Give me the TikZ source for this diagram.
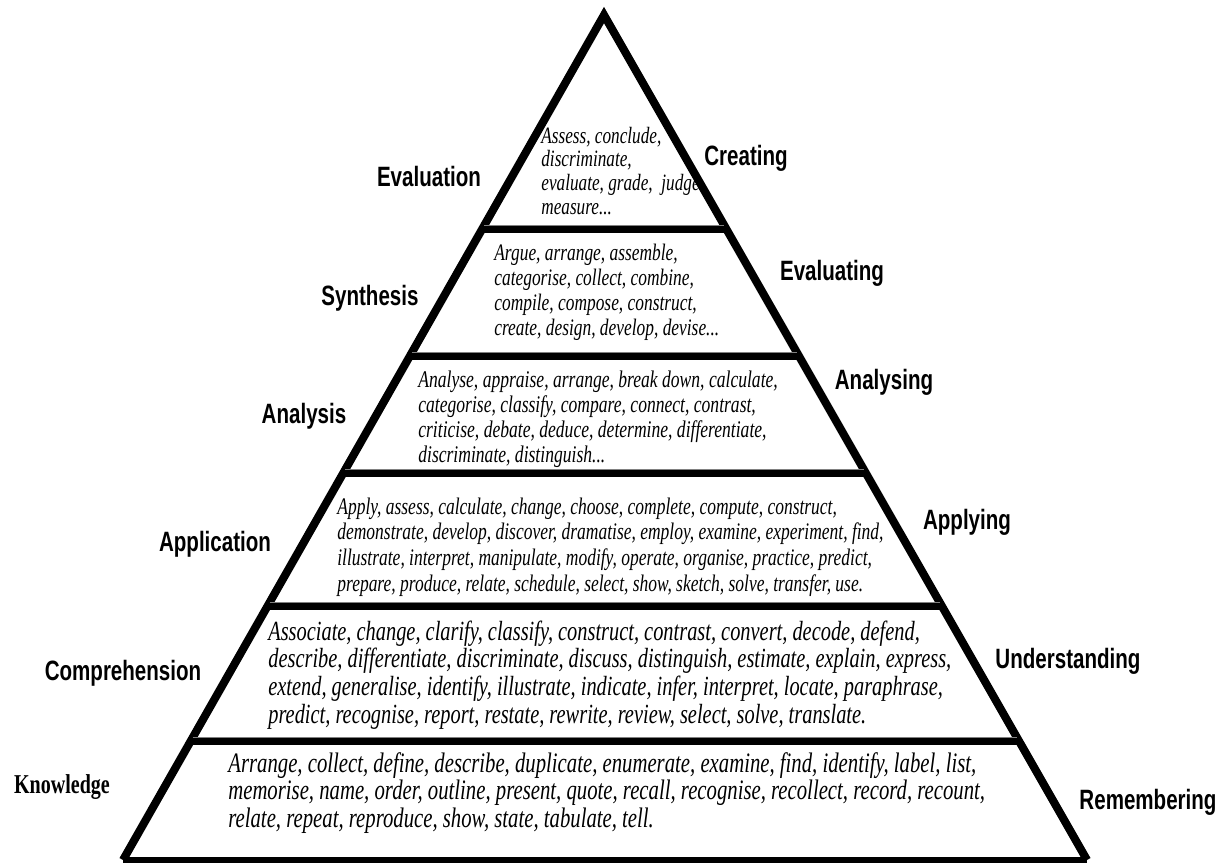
\documentclass[tikz,border=0pt]{standalone}
\usepackage{fontspec}
\usepackage{graphicx}
\setmainfont{Liberation Serif}
\newfontfamily\arialfont{Liberation Sans}
\usetikzlibrary{calc}

% the reference is stretched vertically
\newcommand{\vstr}[1]{\scalebox{1}[1.36]{#1}}
\newcommand{\verbs}[3]{\vstr{\fontsize{#1}{#2}\selectfont\itshape\begin{tabular}[t]{@{}l@{}}#3\end{tabular}}}

\tikzset{
  side/.style={line width=4.6pt, line join=miter},
  band/.style={line width=4pt},
  hair/.style={gray, line width=0.5pt},
  oldname/.style={inner sep=0pt, font=\arialfont\bfseries\fontsize{11.7}{13}\selectfont},
  newname/.style={inner sep=0pt, font=\arialfont\bfseries\fontsize{11.7}{13}\selectfont},
  verblist/.style={inner sep=0pt, anchor=base west}
}

\begin{document}
\begin{tikzpicture}[x=0.02cm, y=-0.02cm]
\useasboundingbox (0,0) rectangle (1229,863);

\coordinate (apex) at (604,15);
\coordinate (bl) at (123,860);
\coordinate (br) at (1087,860);

% pyramid
\draw[side] (bl) -- (apex) -- (br);
\draw[line width=3pt] (bl) -- (br);
\foreach \y in {229,356,473,606,741}
{
	\draw[band] ($(apex)!{(\y-15)/845}!(bl)$) -- ($(apex)!{(\y-15)/845}!(br)$);
	\draw[hair] ($(apex)!{(\y-18.5)/845}!(bl)$) -- ($(apex)!{(\y-18.5)/845}!(br)$);
}

% verbs in each layer
\node[verblist] (creat) at (541,143) {\verbs{9.8}{10}{Assess, conclude,\\ discriminate,\\ evaluate, grade,~ judge\\ measure...}};
\node[verblist] (evalu) at (494,260) {\verbs{9.9}{10.5}{Argue, arrange, assemble,\\ categorise, collect, combine,\\ compile, compose, construct,\\ create, design, develop, devise...}};
\node[verblist] (analy) at (418,387) {\verbs{10}{10.5}{Analyse, appraise, arrange, break down, calculate,\\ categorise, classify, compare, connect, contrast,\\ criticise, debate, deduce, determine, differentiate,\\ discriminate, distinguish...}};
\node[verblist] (apply) at (337,514) {\verbs{9.95}{10.75}{Apply, assess, calculate, change, choose, complete, compute, construct,\\ demonstrate, develop, discover, dramatise, employ, examine, experiment, find,\\ illustrate, interpret, manipulate, modify, operate, organise, practice, predict,\\ prepare, produce, relate, schedule, select, show, sketch, solve, transfer, use.}};
\node[verblist] (under) at (268,640) {\verbs{11.6}{11.7}{Associate, change, clarify, classify, construct, contrast, convert, decode, defend,\\ describe, differentiate, discriminate, discuss, distinguish, estimate, explain, express,\\ extend, generalise, identify, illustrate, indicate, infer, interpret, locate, paraphrase,\\ predict, recognise, report, restate, rewrite, review, select, solve, translate.}};
\node[verblist] (remem) at (228,772) {\verbs{11.8}{11.7}{Arrange, collect, define, describe, duplicate, enumerate, examine, find, identify, label, list,\\ memorise, name, order, outline, present, quote, recall, recognise, recollect, record, recount,\\ relate, repeat, reproduce, show, state, tabulate, tell.}};

% old names, left
\node[oldname] (evaluation) at (429,176) {\vstr{Evaluation}};
\node[oldname] (synthesis) at (370,298) {\vstr{Synthesis}};
\node[oldname] (analysis) at (304,416) {\vstr{Analysis}};
\node[oldname] (application) at (215,544) {\vstr{Application}};
\node[oldname] (comprehension) at (123,673) {\vstr{Comprehension}};
\node[inner sep=0pt, font=\bfseries\fontsize{11.4}{13}\selectfont] (knowledge) at (62,787) {\vstr{Knowledge}};

% new names, right
\node[newname] (creating) at (746,158) {\vstr{Creating}};
\node[newname] (evaluating) at (832,273) {\vstr{Evaluating}};
\node[newname] (analysing) at (884,382) {\vstr{Analysing}};
\node[newname] (applying) at (967,522) {\vstr{Applying}};
\node[newname] (understanding) at (1068,661) {\vstr{Understanding}};
\node[newname] (remembering) at (1148,802) {\vstr{Remembering}};
\end{tikzpicture}
\end{document}
